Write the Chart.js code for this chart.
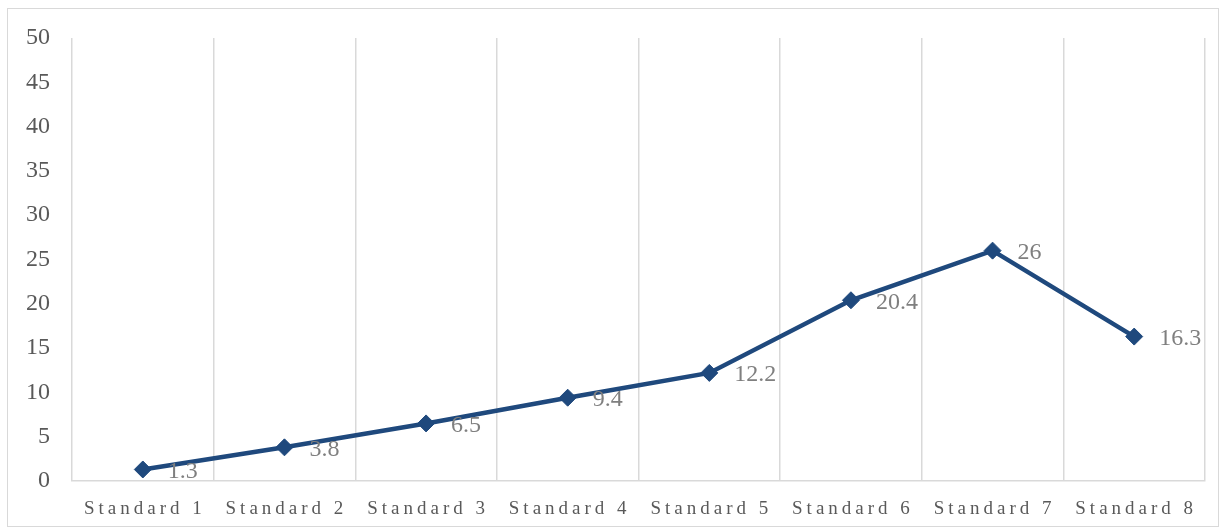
<!DOCTYPE html>
<html>
<head>
<meta charset="utf-8">
<script src="https://cdn.jsdelivr.net/npm/chart.js@4/dist/chart.umd.min.js"></script>
<style>
  html, body { margin: 0; padding: 0; background: #ffffff; }
  #wrap { position: relative; width: 1226px; height: 531px; }
  #frame { position: absolute; left: 7px; top: 8px; width: 1212px; height: 519px;
           border: 1.5px solid #d9d9d9; box-sizing: border-box; pointer-events: none; }
  canvas { position: absolute; left: 0; top: 0; }
</style>
</head>
<body>
<div id="wrap">
  <canvas id="c" width="1226" height="531"></canvas>
  <div id="frame"></div>
</div>
<script>
const categories = ['Standard 1', 'Standard 2', 'Standard 3', 'Standard 4',
                    'Standard 5', 'Standard 6', 'Standard 7', 'Standard 8'];
const values = [1.3, 3.8, 6.5, 9.4, 12.2, 20.4, 26, 16.3];
const yMin = 0, yMax = 50, yStep = 5;

const SERIF = '"Liberation Serif", "DejaVu Serif", serif';
const LINE_COLOR = '#1f497d';

// Value labels placed to the right of each marker
const valueLabels = {
  id: 'valueLabels',
  afterDatasetsDraw(chart) {
    const ctx = chart.ctx;
    const meta = chart.getDatasetMeta(0);
    ctx.save();
    ctx.font = '24px ' + SERIF;
    ctx.fillStyle = '#7f7f7f';
    ctx.textAlign = 'left';
    ctx.textBaseline = 'middle';
    meta.data.forEach((pt, i) => {
      ctx.fillText(String(values[i]), pt.x + 25, pt.y + 2);
    });
    ctx.restore();
  }
};

// Spaced-out category labels on the x axis
const spacedXLabels = {
  id: 'spacedXLabels',
  afterUpdate(chart) {
    const sx = chart.scales.x;
    if (sx && !sx._spacedPatched) {
      const orig = sx.drawLabels.bind(sx);
      sx.drawLabels = function (area) {
        const ctx = this.ctx;
        ctx.save();
        ctx.letterSpacing = '4px';
        ctx.translate(2, 0);
        orig(area);
        ctx.restore();
      };
      sx._spacedPatched = true;
    }
  }
};

new Chart(document.getElementById('c'), {
  type: 'line',
  data: {
    labels: categories,
    datasets: [{
      data: values,
      borderColor: LINE_COLOR,
      backgroundColor: LINE_COLOR,
      borderWidth: 4.5,
      pointStyle: 'rectRot',
      pointRadius: 8.5,
      pointHoverRadius: 8.5,
      pointBackgroundColor: LINE_COLOR,
      pointBorderColor: LINE_COLOR,
      pointBorderWidth: 1,
      tension: 0,
      fill: false
    }]
  },
  options: {
    responsive: false,
    animation: false,
    events: [],
    layout: { padding: { left: 0, top: 38, right: 21, bottom: 0 } },
    plugins: { legend: { display: false }, tooltip: { enabled: false } },
    scales: {
      x: {
        offset: true,
        grid: {
          offset: true,
          color: '#d9d9d9',
          lineWidth: 1.5,
          drawTicks: false
        },
        border: { display: true, color: '#d9d9d9', width: 1.5 },
        ticks: {
          color: '#595959',
          font: { family: SERIF, size: 19 },
          padding: 17,
          maxRotation: 0,
          autoSkip: false
        },
        afterFit(scale) { scale.height = 50; }
      },
      y: {
        min: yMin,
        max: yMax,
        grid: { display: false, drawTicks: false },
        border: { display: false },
        ticks: {
          stepSize: yStep,
          color: '#595959',
          font: { family: SERIF, size: 24 },
          padding: 22
        },
        afterFit(scale) { scale.width = 72; }
      }
    }
  },
  plugins: [valueLabels, spacedXLabels]
});
</script>
</body>
</html>
